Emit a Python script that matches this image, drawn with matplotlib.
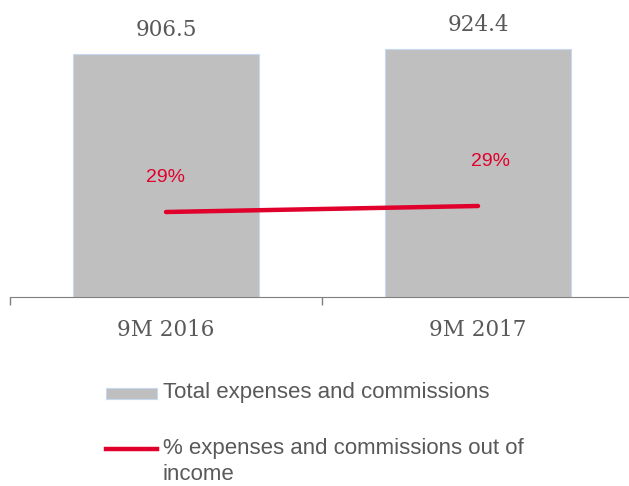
import matplotlib.pyplot as plt
from matplotlib.lines import Line2D
from matplotlib.patches import Rectangle

categories = ['9M 2016', '9M 2017']
expenses = [906.5, 924.4]
pct_income = [0.287, 0.293]
pct_labels = ['29%', '29%']

gray = '#bfbfbf'
red = '#e0002b'
txt = '#595959'

fig = plt.figure(figsize=(6.29, 4.86), dpi=100)
ax = fig.add_axes([10 / 629, 189 / 486, 624 / 629, 287 / 486])
x = range(len(categories))

ax.bar(x, expenses, width=0.593, color=gray, edgecolor='#c6d9f0', linewidth=0.8, zorder=2)
for i, v in enumerate(expenses):
    ax.text(i, v + 50, f'{v:.1f}', ha='center', va='bottom', fontsize=15.5,
            color=txt, family='DejaVu Serif')
ax.set_xlim(-0.5, 1.5)
ax.set_ylim(0, 1071)
ax.set_xticks([-0.5, 0.5, 1.5])
ax.set_xticklabels([])
ax.tick_params(axis='x', length=6, color='#7f7f7f', width=1)
ax.set_yticks([])
for s in ['top', 'right', 'left']:
    ax.spines[s].set_visible(False)
ax.spines['bottom'].set_color('#7f7f7f')
for i, c in enumerate(categories):
    ax.text(i, -0.116 * 1071, c, ha='center', va='center', fontsize=15.5,
            color=txt, family='DejaVu Serif')

ax2 = ax.twinx()
ax2.plot(x, pct_income, color=red, linewidth=3.2, solid_capstyle='round', zorder=3)
ax2.set_ylim(0.202, 0.489)
ax2.axis('off')
ax2.text(0, pct_income[0] + 0.035, pct_labels[0], ha='center', va='center',
         fontsize=14, color=red, family='Liberation Sans')
ax2.text(1.04, pct_income[1] + 0.045, pct_labels[1], ha='center', va='center',
         fontsize=14, color=red, family='Liberation Sans')

# legend drawn by hand so the line sits on the first text row
fig.add_artist(Rectangle((106 / 629, 1 - 399 / 486), 51 / 629, 11 / 486,
                         transform=fig.transFigure, facecolor=gray,
                         edgecolor='#c6d9f0', linewidth=0.8))
fig.text(163 / 629, 1 - 392 / 486, 'Total expenses and commissions', ha='left',
         va='center', fontsize=16, color=txt, family='Liberation Sans')
fig.add_artist(Line2D([106 / 629, 157 / 629], [1 - 449 / 486, 1 - 449 / 486],
                      transform=fig.transFigure, color=red, linewidth=3.2))
fig.text(163 / 629, 1 - 448 / 486, '% expenses and commissions out of', ha='left',
         va='center', fontsize=16, color=txt, family='Liberation Sans')
fig.text(163 / 629, 1 - 474 / 486, 'income', ha='left', va='center', fontsize=16,
         color=txt, family='Liberation Sans')

plt.savefig('out.png', dpi=100)
